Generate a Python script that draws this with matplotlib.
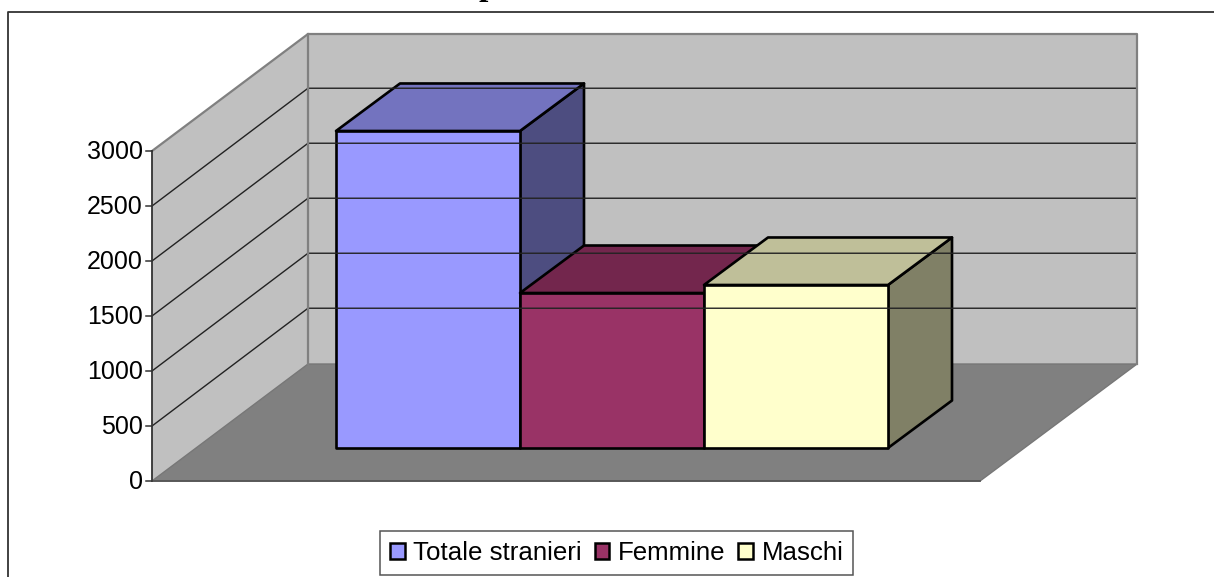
import matplotlib
matplotlib.use("Agg")
import matplotlib.pyplot as plt
from matplotlib.patches import Patch, Polygon

plt.rcParams["font.family"] = ["Liberation Sans", "DejaVu Sans"]

# valori
categories = ["Totale stranieri", "Femmine", "Maschi"]
values = [2882, 1409, 1482]
colors = ["#9999FF", "#993366", "#FFFFCC"]
top_colors = ["#7373BF", "#73264D", "#BFBF99"]
side_colors = ["#4D4D80", "#4D1A33", "#808066"]
y_ticks = [0, 500, 1000, 1500, 2000, 2500, 3000]

W, H = 1214, 577
PX_PER_UNIT = 0.11  # pixel per unita' sull'asse dei valori
Y0_PX = 481

fig = plt.figure(figsize=(W / 100, H / 100), dpi=100, facecolor="white")
ax = fig.add_axes([0, 0, 1, 1])
ax.set_xlim(0, W)
ax.set_ylim((Y0_PX - H) / PX_PER_UNIT, Y0_PX / PX_PER_UNIT)
ax.axis("off")


def py(px):
    # da pixel verticale a unita' dati
    return (Y0_PX - px) / PX_PER_UNIT


def poly(points, **kw):
    ax.add_patch(Polygon(points, closed=True, **kw))


# cornice esterna, tagliata a destra e in basso
ax.plot([8, 8, W], [py(H), py(12), py(12)], color="#333333", lw=1.3)
# residuo del titolo tagliato in alto
ax.text(488, py(-5), "p", fontsize=24, fontweight="bold", family="Liberation Serif",
        ha="center", va="baseline", color="black")

# pareti e pavimento
x_f, x_b, x_fr, x_br = 152, 308, 980, 1137
dy_wall = 117 / PX_PER_UNIT
top = max(y_ticks)
poly([(x_f, 0), (x_b, dy_wall), (x_b, top + dy_wall), (x_f, top)],
     facecolor="#C0C0C0", edgecolor="none")
poly([(x_b, dy_wall), (x_br, dy_wall), (x_br, top + dy_wall), (x_b, top + dy_wall)],
     facecolor="#C0C0C0", edgecolor="none")
poly([(x_f, 0), (x_b, dy_wall), (x_br, dy_wall), (x_fr, 0)],
     facecolor="#808080", edgecolor="#777777", lw=1)

# griglia
for t in y_ticks[1:-1]:
    ax.plot([x_f, x_b, x_br - 1], [t, t + dy_wall + 7, t + dy_wall + 7], color="#222222", lw=1)

# bordi delle pareti
ax.plot([x_f, x_b, x_br, x_br], [top, top + dy_wall, top + dy_wall, dy_wall],
        color="#808080", lw=1.6)
ax.plot([x_b, x_b], [dy_wall, top + dy_wall], color="#808080", lw=1.6)

# asse dei valori
ax.plot([x_f, x_f], [0, top], color="#333333", lw=1.3)
ax.plot([x_f, x_fr], [0, 0], color="#555555", lw=1.3)
for t in y_ticks:
    ax.plot([x_f - 6, x_f], [t, t], color="#333333", lw=1.1)
    ax.text(x_f - 9, t + 14, str(t), ha="right", va="center_baseline", fontsize=18, color="black")

# barre
bar_left = 336
bar_w = 184
depth_x = 64
depth_y = 47.5 / PX_PER_UNIT
base = py(448)
for i, v in enumerate(values):
    x0 = bar_left + i * bar_w
    x1 = x0 + bar_w
    y1 = base + v
    edge = dict(edgecolor="black", lw=1.9, joinstyle="round")
    poly([(x1, base), (x1 + depth_x, base + depth_y), (x1 + depth_x, y1 + depth_y), (x1, y1)],
         facecolor=side_colors[i], **edge)
    poly([(x0, y1), (x1, y1), (x1 + depth_x, y1 + depth_y), (x0 + depth_x, y1 + depth_y)],
         facecolor=top_colors[i], **edge)
    poly([(x0, base), (x1, base), (x1, y1), (x0, y1)], facecolor=colors[i], **edge)

# legenda
handles = [Patch(facecolor=c, edgecolor="black", lw=1.8) for c in colors]
leg = ax.legend(handles, categories, loc="center", ncol=3, fontsize=18.6,
                bbox_to_anchor=(616.5 / W, 1 - 553 / H),
                fancybox=False, framealpha=1, edgecolor="#555555",
                handlelength=0.58, handleheight=0.6, handletextpad=0.32,
                columnspacing=0.5, borderpad=0.38, borderaxespad=0)
leg.get_frame().set_linewidth(1.1)

fig.savefig("out.png", dpi=100)
